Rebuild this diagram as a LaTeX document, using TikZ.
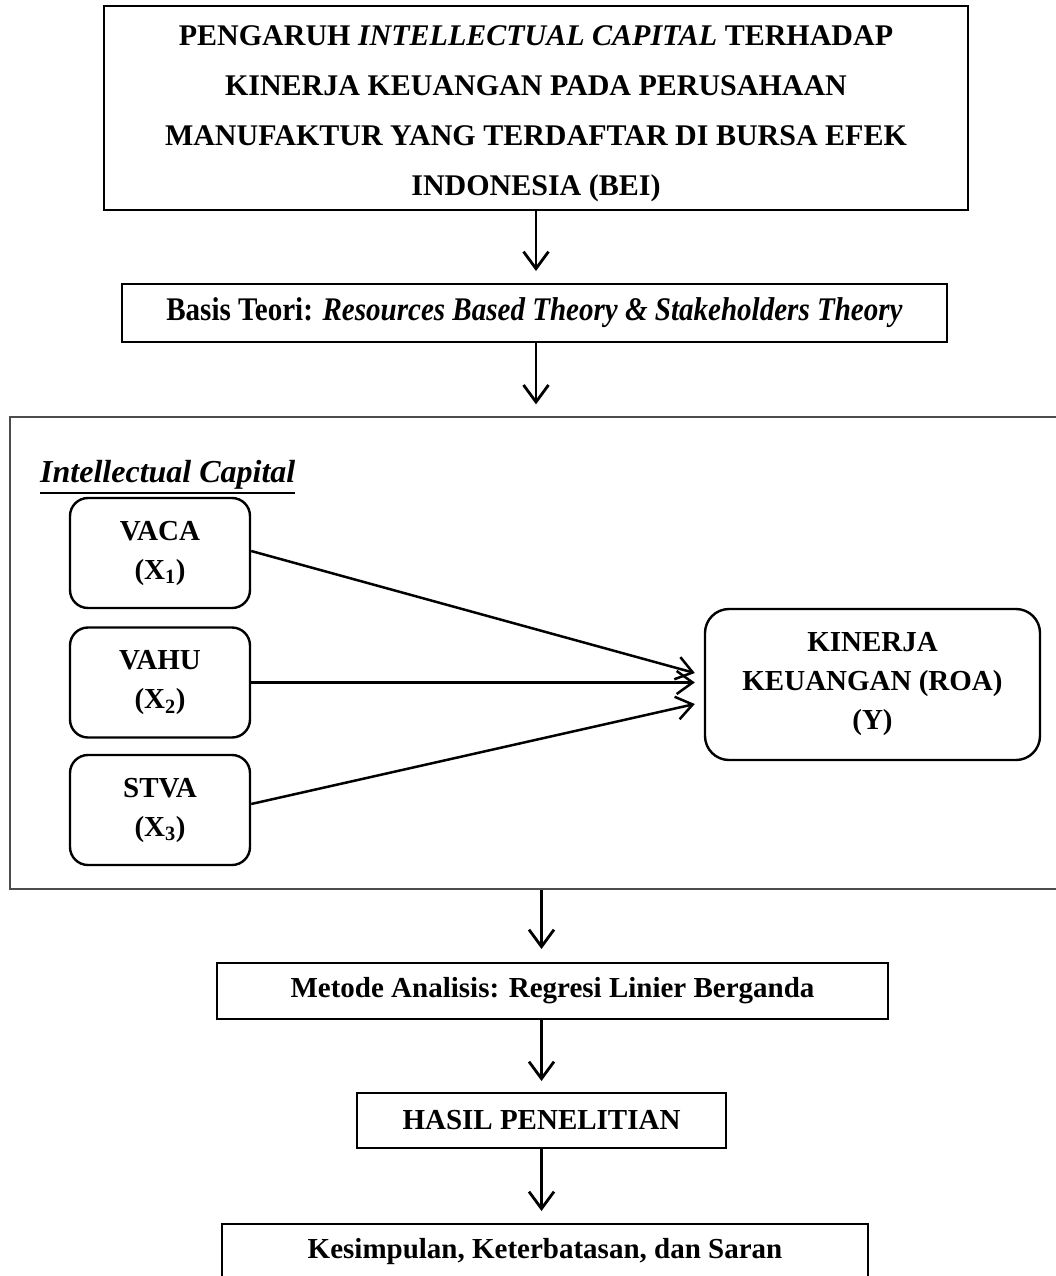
\documentclass[tikz,border=0pt]{standalone}
\usepackage{fontspec}
\setmainfont{Liberation Serif}
\newfontfamily\narrowfont{Liberation Serif}[FakeStretch=0.88]
\newcommand{\thickul}[1]{\vtop{\hbox{#1}\kern3pt\hrule height 2.6pt}}
\usetikzlibrary{arrows.meta}

\begin{document}
\begin{tikzpicture}[x=1pt, y=-1pt,
  txt/.style={font=\fontsize{29}{39}\selectfont\bfseries, align=center},
  box/.style={draw, line width=2pt, txt, inner sep=0pt},
  rbox/.style={box, line width=2.4pt, rounded corners=18pt},
  arr/.style={-{Straight Barb[length=17pt,width=25pt]}, line width=2.8pt},
  harr/.style={-{Straight Barb[length=16pt,width=23pt]}, line width=2.5pt}
]
\clip (0,0) rectangle (1056,1276);
\node[box, font=\fontsize{30}{50}\selectfont\bfseries, minimum width=864pt, minimum height=204pt] (title) at (536,108) {\rule{0pt}{31pt}PENGARUH \textit{INTELLECTUAL CAPITAL} TERHADAP\\KINERJA KEUANGAN PADA PERUSAHAAN\\MANUFAKTUR YANG TERDAFTAR DI BURSA EFEK\\INDONESIA (BEI)};
\node[box, font=\fontsize{33}{40}\selectfont\narrowfont\bfseries, minimum width=825pt, minimum height=58pt] (basis) at (534.5,313) {Basis Teori: \textit{Resources Based Theory \& Stakeholders Theory}};
\node[draw=black!70, line width=1.3pt, minimum width=1060pt, minimum height=472pt, inner sep=0pt] (frame) at (540,653) {};
\node[font=\fontsize{32}{40}\selectfont\bfseries\itshape, anchor=base west, inner sep=0pt] (iclabel) at (40,482) {\thickul{Intellectual Capital}};
\node[rbox, minimum width=180pt, minimum height=110pt] (vaca) at (160,553) {VACA\\(X\textsubscript{1})};
\node[rbox, minimum width=180pt, minimum height=110pt] (vahu) at (160,682.5) {VAHU\\(X\textsubscript{2})};
\node[rbox, minimum width=180pt, minimum height=110pt] (stva) at (160,810) {STVA\\(X\textsubscript{3})};
\node[rbox, rounded corners=24pt, minimum width=335pt, minimum height=151pt] (kinerja) at (872.5,684.5) {KINERJA\\KEUANGAN (ROA)\\(Y)};
\node[box, minimum width=671pt, minimum height=56pt] (metode) at (552.5,991) {Metode Analisis: Regresi Linier Berganda};
\node[box, minimum width=369pt, minimum height=55pt] (hasil) at (541.5,1120.5) {HASIL PENELITIAN};
\node[box, minimum width=646pt, minimum height=56pt] (kes) at (545,1252) {Kesimpulan, Keterbatasan, dan Saran};
% alur utama
\draw[arr, shorten >=12pt] (title.south) -- (title.south |- basis.north);
\draw[arr, shorten >=12pt] (title.south |- basis.south) -- (title.south |- frame.north);
\draw[arr, shorten >=13pt] (hasil.north |- frame.south) -- (hasil.north |- metode.north);
\draw[arr, shorten >=11pt] (hasil.north |- metode.south) -- (hasil.north);
\draw[arr, shorten >=12pt] (hasil.south) -- (hasil.south |- kes.north);
% variabel X ke Y
\draw[harr] ([yshift=2pt]vaca.east) -- ([xshift=-9pt, yshift=11.5pt]kinerja.west);
\draw[harr, shorten >=9pt] (vahu.east) -- (vahu.east -| kinerja.west);
\draw[harr] ([yshift=6pt]stva.east) -- ([xshift=-9pt, yshift=-19.5pt]kinerja.west);
\end{tikzpicture}
\end{document}
